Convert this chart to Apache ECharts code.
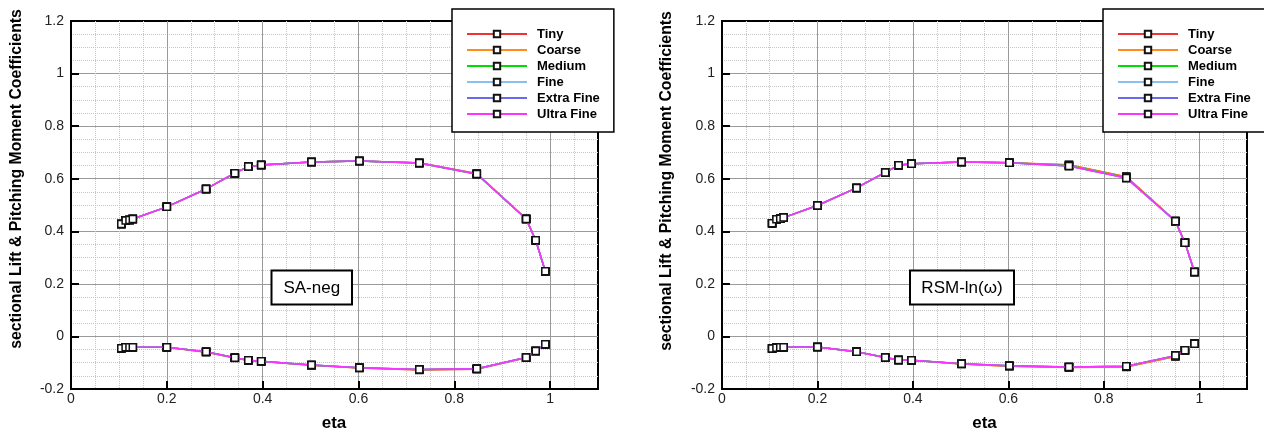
<!DOCTYPE html>
<html>
<head>
<meta charset="utf-8">
<script src="https://cdn.jsdelivr.net/npm/echarts@6/dist/echarts.min.js"></script>
<style>
  html, body { margin: 0; padding: 0; background: #fff; }
  #main { width: 1264px; height: 434px; }
</style>
</head>
<body>
<div id="main"></div>
<script>
// spanwise stations
var eta = [0.105, 0.114, 0.122, 0.129, 0.2, 0.282, 0.342, 0.37, 0.397, 0.502, 0.602, 0.727, 0.847, 0.95, 0.97, 0.99];

var meshNames = ['Tiny', 'Coarse', 'Medium', 'Fine', 'Extra Fine', 'Ultra Fine'];
var meshColors = ['#ee3333', '#ff8c1a', '#00dd00', '#88c0f0', '#6a6aee', '#ff33ff'];

// SA-neg : sectional lift
var saClTiny   = [0.428, 0.441, 0.443, 0.447, 0.493, 0.561, 0.621, 0.646, 0.652, 0.664, 0.667, 0.661, 0.620, 0.448, 0.366, 0.248];
var saClCoarse = [0.428, 0.441, 0.443, 0.447, 0.493, 0.561, 0.621, 0.646, 0.652, 0.664, 0.667, 0.660, 0.619, 0.447, 0.366, 0.248];
var saClMedium = [0.428, 0.441, 0.443, 0.447, 0.493, 0.561, 0.621, 0.646, 0.652, 0.664, 0.667, 0.659, 0.617, 0.447, 0.366, 0.248];
var saClFine   = [0.428, 0.441, 0.443, 0.447, 0.493, 0.561, 0.621, 0.646, 0.652, 0.664, 0.667, 0.660, 0.618, 0.447, 0.366, 0.248];
var saClXFine  = [0.428, 0.441, 0.443, 0.447, 0.493, 0.561, 0.621, 0.646, 0.652, 0.664, 0.667, 0.660, 0.618, 0.447, 0.366, 0.248];
var saClUFine  = [0.428, 0.441, 0.443, 0.447, 0.493, 0.561, 0.621, 0.646, 0.652, 0.664, 0.667, 0.660, 0.618, 0.447, 0.366, 0.248];
// SA-neg : sectional pitching moment
var saCmTiny   = [-0.045, -0.041, -0.041, -0.041, -0.041, -0.060, -0.082, -0.092, -0.095, -0.110, -0.120, -0.128, -0.125, -0.081, -0.055, -0.030];
var saCmCoarse = [-0.045, -0.041, -0.041, -0.041, -0.041, -0.059, -0.081, -0.091, -0.094, -0.110, -0.120, -0.127, -0.124, -0.080, -0.055, -0.030];
var saCmMedium = [-0.045, -0.041, -0.041, -0.041, -0.041, -0.058, -0.081, -0.091, -0.094, -0.109, -0.119, -0.126, -0.123, -0.080, -0.055, -0.030];
var saCmFine   = [-0.045, -0.041, -0.041, -0.041, -0.041, -0.058, -0.081, -0.091, -0.094, -0.109, -0.119, -0.126, -0.123, -0.080, -0.055, -0.030];
var saCmXFine  = [-0.045, -0.041, -0.041, -0.041, -0.041, -0.058, -0.081, -0.091, -0.094, -0.109, -0.119, -0.126, -0.123, -0.080, -0.055, -0.030];
var saCmUFine  = [-0.045, -0.041, -0.041, -0.041, -0.041, -0.058, -0.081, -0.091, -0.094, -0.109, -0.119, -0.126, -0.123, -0.080, -0.055, -0.030];

// RSM-ln(w) : sectional lift
var rsmClTiny   = [0.431, 0.446, 0.448, 0.452, 0.498, 0.565, 0.624, 0.651, 0.657, 0.664, 0.661, 0.653, 0.608, 0.440, 0.356, 0.245];
var rsmClCoarse = [0.431, 0.446, 0.448, 0.452, 0.498, 0.565, 0.624, 0.651, 0.657, 0.664, 0.661, 0.652, 0.607, 0.439, 0.356, 0.245];
var rsmClMedium = [0.431, 0.446, 0.448, 0.452, 0.498, 0.565, 0.624, 0.651, 0.657, 0.664, 0.661, 0.650, 0.605, 0.438, 0.356, 0.245];
var rsmClFine   = [0.431, 0.446, 0.448, 0.452, 0.498, 0.565, 0.624, 0.651, 0.657, 0.664, 0.661, 0.648, 0.603, 0.438, 0.356, 0.245];
var rsmClXFine  = [0.431, 0.446, 0.448, 0.452, 0.498, 0.565, 0.624, 0.651, 0.657, 0.664, 0.661, 0.648, 0.603, 0.438, 0.356, 0.245];
var rsmClUFine  = [0.431, 0.446, 0.448, 0.452, 0.498, 0.565, 0.624, 0.651, 0.657, 0.664, 0.661, 0.648, 0.603, 0.438, 0.356, 0.245];
// RSM-ln(w) : sectional pitching moment
var rsmCmTiny   = [-0.046, -0.043, -0.041, -0.041, -0.040, -0.058, -0.080, -0.090, -0.091, -0.105, -0.113, -0.118, -0.116, -0.076, -0.053, -0.028];
var rsmCmCoarse = [-0.046, -0.043, -0.041, -0.041, -0.040, -0.058, -0.080, -0.090, -0.091, -0.105, -0.113, -0.117, -0.115, -0.075, -0.053, -0.028];
var rsmCmMedium = [-0.046, -0.043, -0.041, -0.041, -0.040, -0.058, -0.080, -0.090, -0.091, -0.104, -0.112, -0.116, -0.113, -0.073, -0.053, -0.028];
var rsmCmFine   = [-0.046, -0.043, -0.041, -0.041, -0.040, -0.058, -0.080, -0.090, -0.091, -0.104, -0.112, -0.116, -0.113, -0.073, -0.053, -0.028];
var rsmCmXFine  = [-0.046, -0.043, -0.041, -0.041, -0.040, -0.058, -0.080, -0.090, -0.091, -0.104, -0.112, -0.116, -0.113, -0.073, -0.053, -0.028];
var rsmCmUFine  = [-0.046, -0.043, -0.041, -0.041, -0.040, -0.058, -0.080, -0.090, -0.091, -0.104, -0.112, -0.116, -0.113, -0.073, -0.053, -0.028];

var saCl  = [saClTiny, saClCoarse, saClMedium, saClFine, saClXFine, saClUFine];
var saCm  = [saCmTiny, saCmCoarse, saCmMedium, saCmFine, saCmXFine, saCmUFine];
var rsmCl = [rsmClTiny, rsmClCoarse, rsmClMedium, rsmClFine, rsmClXFine, rsmClUFine];
var rsmCm = [rsmCmTiny, rsmCmCoarse, rsmCmMedium, rsmCmFine, rsmCmXFine, rsmCmUFine];

var FONT = '"Liberation Sans", Arial, Helvetica, sans-serif';
var majorColor = '#9a9a9a';
var minorColor = '#c6c6c6';

function pairs(vals) {
  return eta.map(function (e, i) { return [e, vals[i]]; });
}

function fmt(v) {
  if (v > 1.05) return '';
  return String(+v.toFixed(2));
}

function xMajor(gi) {
  return {
    type: 'value', gridIndex: gi, position: 'bottom',
    min: 0, max: 1.1, interval: 0.2,
    axisLine: { show: true, onZero: false, lineStyle: { color: '#000', width: 2 } },
    axisTick: { show: true, inside: true, length: 8, lineStyle: { color: '#000', width: 2 } },
    axisLabel: { margin: 3, color: '#222', fontSize: 14, fontFamily: FONT, formatter: fmt },
    splitLine: { show: true, showMinLine: false, showMaxLine: false, lineStyle: { color: majorColor, width: 1 } }
  };
}

function xMinor(gi) {
  return {
    type: 'value', gridIndex: gi, position: 'top',
    min: 0, max: 1.1, interval: 0.05,
    axisLine: { show: false }, axisTick: { show: false }, axisLabel: { show: false },
    splitLine: {
      show: true, showMaxLine: false,
      lineStyle: { color: ['rgba(0,0,0,0)', minorColor, minorColor, minorColor], type: 'dotted', width: 1 }
    }
  };
}

function yAxisFor(gi) {
  return {
    type: 'value', gridIndex: gi,
    min: -0.2, max: 1.2, interval: 0.2,
    axisLine: { show: true, onZero: false, lineStyle: { color: '#000', width: 2 } },
    axisTick: { show: true, inside: true, length: 8, lineStyle: { color: '#000', width: 2 } },
    axisLabel: { margin: 7, color: '#222', fontSize: 14, fontFamily: FONT, formatter: function (v) { return String(+v.toFixed(2)); } },
    minorTick: { show: false, splitNumber: 4 },
    minorSplitLine: { show: true, lineStyle: { color: minorColor, type: 'dotted', width: 1 } },
    splitLine: { show: true, showMinLine: false, showMaxLine: false, lineStyle: { color: majorColor, width: 1 } }
  };
}

function mkSeries(k, vals, gi) {
  return {
    name: meshNames[k], type: 'line',
    xAxisIndex: gi * 2, yAxisIndex: gi,
    data: pairs(vals),
    symbol: 'rect', symbolSize: 7,
    showAllSymbol: true,
    lineStyle: { color: meshColors[k], width: 1.5 },
    itemStyle: { color: '#fff', borderColor: '#111', borderWidth: 1.5 },
    emphasis: { disabled: true },
    animation: false,
    z: 2 + k
  };
}

var series = [];
for (var k = 0; k < meshNames.length; k++) {
  series.push(mkSeries(k, saCl[k], 0));
  series.push(mkSeries(k, saCm[k], 0));
  series.push(mkSeries(k, rsmCl[k], 1));
  series.push(mkSeries(k, rsmCm[k], 1));
}

function legendAt(left) {
  return {
    data: meshNames, orient: 'vertical', left: left, top: 9,
    itemWidth: 60, itemHeight: 8, itemGap: 0,
    padding: [17, 14, 10, 14],
    backgroundColor: '#fff', borderColor: '#000', borderWidth: 1.5,
    selectedMode: false,
    textStyle: { fontFamily: FONT, fontWeight: 'bold', fontSize: 13, color: '#000', lineHeight: 16, padding: [0, 0, 0, 5] }
  };
}

function noteBox(x, y, w, h, label) {
  return {
    type: 'group',
    children: [
      { type: 'rect', z: 100, shape: { x: x, y: y, width: w, height: h }, style: { fill: '#fff', stroke: '#000', lineWidth: 2 } },
      { type: 'text', z: 101, x: x + w / 2, y: y + h / 2 + 1, style: { text: label, font: '17px ' + FONT, fill: '#000', align: 'center', verticalAlign: 'middle' } }
    ]
  };
}

function titleText(x, y, txt, rot, size) {
  return {
    type: 'text', x: x, y: y, rotation: rot, z: 100,
    style: { text: txt, font: 'bold ' + size + 'px ' + FONT, fill: '#000', align: 'center', verticalAlign: 'middle' }
  };
}

var yTitle = 'sectional Lift & Pitching Moment Coefficients';

var option = {
  backgroundColor: '#fff',
  animation: false,
  grid: [
    { left: 71, top: 21, width: 527, height: 368, show: true, borderColor: '#000', borderWidth: 2, backgroundColor: '#fff' },
    { left: 722, top: 21, width: 525, height: 368, show: true, borderColor: '#000', borderWidth: 2, backgroundColor: '#fff' }
  ],
  xAxis: [xMajor(0), xMinor(0), xMajor(1), xMinor(1)],
  yAxis: [yAxisFor(0), yAxisFor(1)],
  legend: [legendAt(452), legendAt(1103)],
  graphic: [
    titleText(17, 179, yTitle, Math.PI / 2, 15.8),
    titleText(667, 181, yTitle, Math.PI / 2, 15.8),
    titleText(334, 423, 'eta', 0, 17),
    titleText(984.5, 423, 'eta', 0, 17),
    noteBox(271.5, 270.5, 80.5, 34, 'SA-neg'),
    noteBox(910, 270.5, 104, 34, 'RSM-ln(\u03c9)')
  ],
  series: series
};

var myChart = echarts.init(document.getElementById('main'), null, { renderer: 'canvas' });
myChart.setOption(option);
window.addEventListener('resize', myChart.resize);
</script>
</body>
</html>
